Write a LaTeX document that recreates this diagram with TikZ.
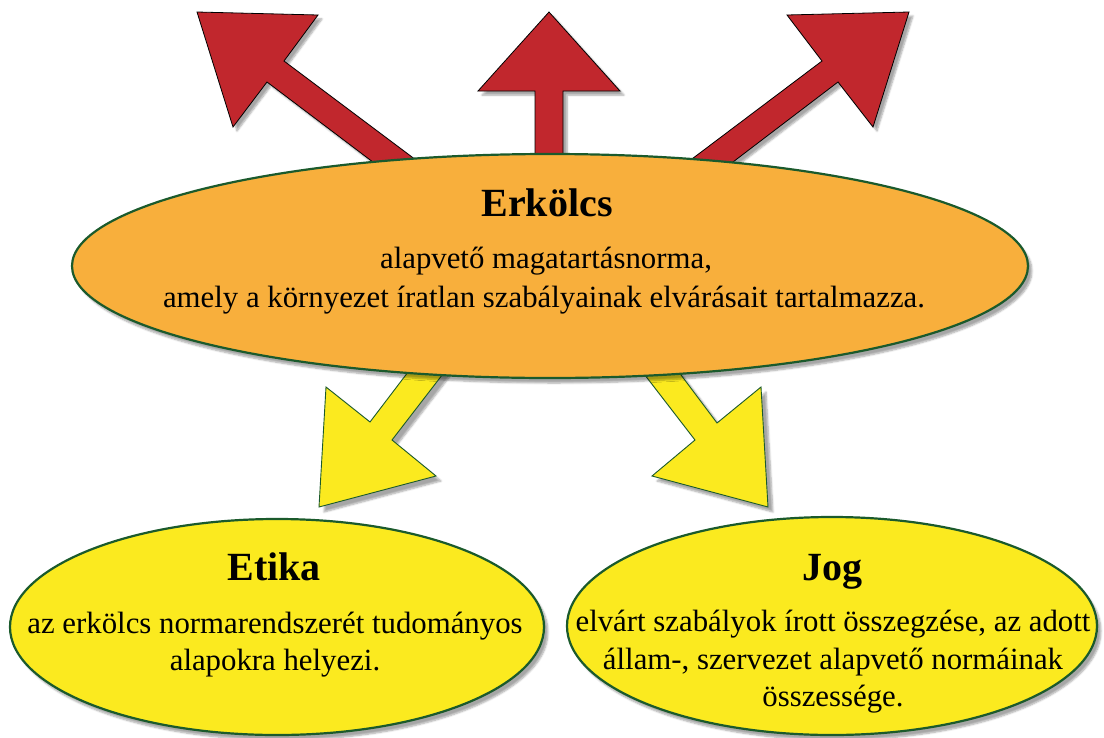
\documentclass[tikz,border=0pt]{standalone}
\usepackage{fontspec}
\setmainfont{Liberation Serif}
\usetikzlibrary{shapes.geometric,shadows.blur}
\definecolor{redarrow}{HTML}{C1272D}
\definecolor{orangefill}{HTML}{F8AF3C}
\definecolor{yellowfill}{HTML}{FBEA1F}
\definecolor{darkgreen}{HTML}{1B5A2C}
\tikzset{
  redarr/.style={fill=redarrow, draw=black, line width=0.8pt, line join=miter,
    blur shadow={shadow xshift=4pt, shadow yshift=-4pt, shadow blur steps=6, shadow opacity=35}},
  yelarr/.style={fill=yellowfill, draw=darkgreen, line width=0.9pt, line join=miter,
    blur shadow={shadow xshift=5pt, shadow yshift=-5pt, shadow blur steps=6, shadow opacity=35}},
  bubble/.style={ellipse, draw=darkgreen, line width=2.2pt, inner sep=0pt,
    blur shadow={shadow xshift=4pt, shadow yshift=-5pt, shadow blur steps=6, shadow opacity=35}},
  titletext/.style={font=\fontsize{40}{44}\selectfont\bfseries, inner sep=0pt, anchor=base},
  bodytext/.style={font=\fontsize{30.8}{36}\selectfont, inner sep=0pt, anchor=base},
}
\begin{document}
\begin{tikzpicture}[x=1pt,y=-1pt]
\useasboundingbox (0,0) rectangle (1104,737);
% red arrows
\draw[redarr] (436,175) -- (284,61) -- (318,15) -- (197,12) -- (233,127) -- (267,82) -- (394,178) -- cycle;
\draw[redarr] (535,185) -- (535,91) -- (478,91) -- (549,12) -- (620,91) -- (563,91) -- (563,185) -- cycle;
\draw[redarr] (668,177) -- (822,61) -- (787,15) -- (909,12) -- (873,127) -- (838,82) -- (708,181) -- cycle;
% yellow arrows
\draw[yelarr] (421,355) -- (456,357) -- (392,440) -- (436,476) -- (319,507) -- (326,387) -- (370,422) -- cycle;
\draw[yelarr] (666,355) -- (631,357) -- (695,440) -- (652,476) -- (768,507) -- (761,387) -- (717,423) -- cycle;
% ellipses
\node[bubble, fill=orangefill, minimum width=956pt, minimum height=224pt] (erk) at (550,266) {};
\node[bubble, fill=yellowfill, minimum width=534pt, minimum height=216pt] (etika) at (277,627) {};
\node[bubble, fill=yellowfill, minimum width=530pt, minimum height=218pt] (jog) at (832,626) {};
% texts
\node[titletext] (erkt) at (547,216) {Erkölcs};
\node[bodytext] (erkb1) at (546,268) {alapvető magatartásnorma,};
\node[bodytext] (erkb2) at (544,307) {amely a környezet íratlan szabályainak elvárásait tartalmazza.};
\node[titletext] (etikat) at (274,580) {Etika};
\node[bodytext] (etikab1) at (275,633) {az erkölcs normarendszerét tudományos};
\node[bodytext] (etikab2) at (275,670) {alapokra helyezi.};
\node[titletext] (jogt) at (832,580) {Jog};
\node[bodytext] (jogb1) at (833,631) {elvárt szabályok írott összegzése, az adott};
\node[bodytext] (jogb2) at (833,669) {állam-, szervezet alapvető normáinak};
\node[bodytext] (jogb3) at (833,706) {összessége.};
\end{tikzpicture}
\end{document}
